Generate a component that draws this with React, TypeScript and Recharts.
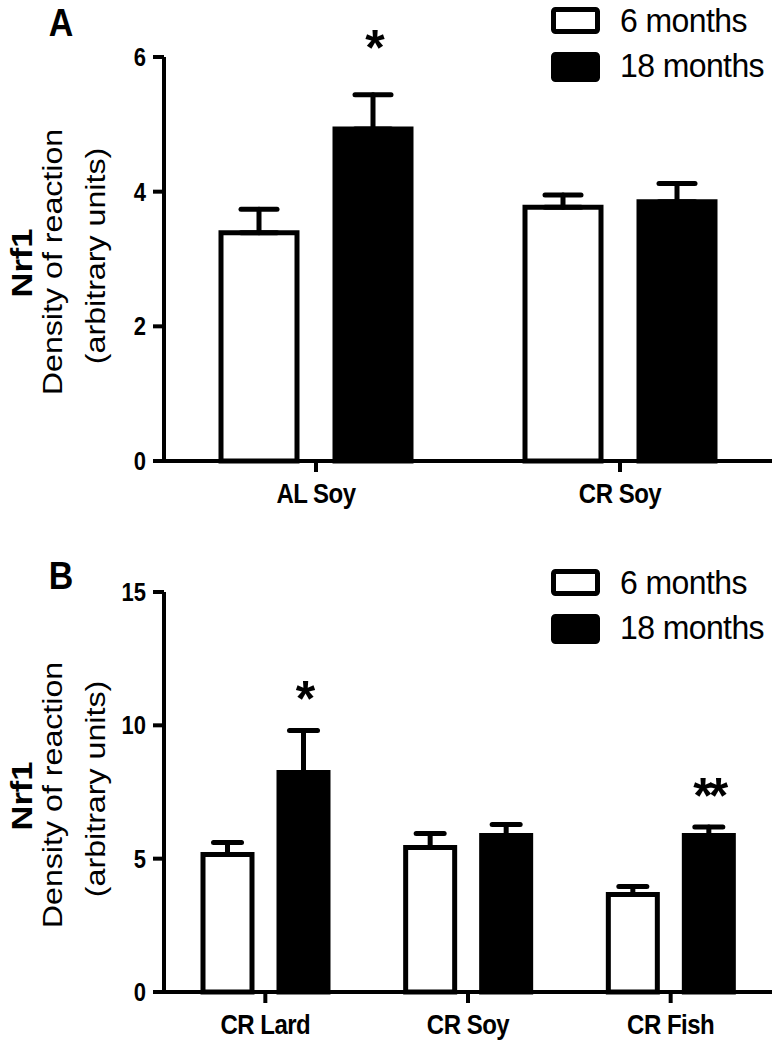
import React from "react";
import { BarChart, Bar, XAxis, YAxis, ErrorBar, Legend, LabelList, Label } from "recharts";

// panel A
const catsA = ["AL Soy", "CR Soy"];
const m6A = [3.39, 3.77];
const e6A = [0.35, 0.18];
const m18A = [4.93, 3.85];
const e18A = [0.51, 0.27];
const sigA = ["*", ""];
const ticksA = [0, 2, 4, 6];

// panel B
const catsB = ["CR Lard", "CR Soy", "CR Fish"];
const m6B = [5.16, 5.42, 3.66];
const e6B = [0.45, 0.52, 0.3];
const m18B = [8.23, 5.87, 5.87];
const e18B = [1.58, 0.41, 0.32];
const sigB = ["*", "", "**"];
const ticksB = [0, 5, 10, 15];

const series = ["6 months", "18 months"];
const fills = ["#fff", "#000"];

const FONT = "'Liberation Sans', Arial, Helvetica, sans-serif";
const S = 1.15; // source figure is stretched vertically

const build = (cats: string[], m6: number[], e6: number[], m18: number[], e18: number[], sig: string[]) =>
  cats.map((c, i) => ({
    name: c,
    m6: m6[i],
    m18: m18[i],
    err6: [0, e6[i]],
    err18: [0, e18[i]],
    sig: sig[i],
  }));

const YTick = (p: any) => (
  <text
    transform={`translate(${p.x},${p.y}) scale(1,${S})`}
    textAnchor="end"
    dy="0.36em"
    fontSize={22}
    fontWeight="bold"
    fontFamily={FONT}
    fill="#000"
  >
    {p.payload.value}
  </text>
);

const XTick = (p: any) => (
  <text
    transform={`translate(${p.x},${p.y + 29}) scale(1,${S})`}
    textAnchor="middle"
    fontSize={24}
    fontWeight="bold"
    fontFamily={FONT}
    letterSpacing={-0.5}
    fill="#000"
  >
    {p.payload.value}
  </text>
);

const YTitle = (p: any) => {
  const vb = p.viewBox || {};
  const cy = vb.y + vb.height / 2;
  const rot = (x: number, y: number) => `translate(${x},${y}) rotate(-90) scale(${S},1)`;
  return (
    <g fontFamily={FONT} fill="#000" textAnchor="middle">
      <text transform={rot(32, cy + 4)} fontSize={30} fontWeight="bold">Nrf1</text>
      <text transform={rot(62, cy + 3)} fontSize={28}>Density of reaction</text>
      <text transform={rot(105, cy - 3)} fontSize={28}>(arbitrary units)</text>
    </g>
  );
};

const LegendBox = () => {
  const rows = [
    { y: 9.5, h: 22, base: 32 },
    { y: 54.5, h: 25, base: 77 },
  ];
  return (
    <svg width={239} height={90} style={{ display: "block" }}>
      {series.map((s, i) => (
        <g key={s}>
          <rect x={13.5} y={rows[i].y} width={44} height={rows[i].h} rx={2} fill={fills[i]} stroke="#000" strokeWidth={5} />
          <text
            transform={`translate(80,${rows[i].base}) scale(1,1.05)`}
            fontSize={32}
            fontFamily={FONT}
            letterSpacing={-0.6}
            fill="#000"
          >
            {s}
          </text>
        </g>
      ))}
    </svg>
  );
};

const sigLabel = (vals: number[], errs: number[], off: number) => (p: any) => {
  const vb = p.viewBox || p;
  const v = p.value;
  if (!v) return null;
  const i = p.index;
  const ppu = vb.height / vals[i];
  const top = vb.y - errs[i] * ppu;
  return (
    <text
      x={vb.x + vb.width / 2}
      y={top - off + 28}
      textAnchor="middle"
      fontSize={50}
      fontWeight="bold"
      fontFamily={FONT}
      letterSpacing={-4}
      fill="#000"
    >
      {v}
    </text>
  );
};

type PanelProps = {
  data: any[];
  letter: string;
  height: number;
  top: number;
  xh: number;
  ticks: number[];
  barSize: number;
  barGap: number;
  cap: number;
  m18: number[];
  e18: number[];
  sigOff: number;
  legendTop: number;
  letterBase: number;
};

function Panel(props: PanelProps) {
  const { data, letter, height, top, xh, ticks, barSize, barGap, cap, m18, e18, sigOff, legendTop, letterBase } = props;
  const line = { stroke: "#000", strokeWidth: 4 };
  return (
    <div style={{ position: "relative", width: 779, height }}>
      <BarChart
        width={779}
        height={height}
        data={data}
        margin={{ top, right: 7, left: 0, bottom: 0 }}
        barSize={barSize}
        barGap={barGap}
      >
        <XAxis dataKey="name" height={xh} axisLine={line} tickLine={line} tickSize={11} tick={<XTick />} interval={0} />
        <YAxis
          width={164}
          domain={[ticks[0], ticks[ticks.length - 1]]}
          ticks={ticks}
          axisLine={line}
          tickLine={line}
          tickSize={11}
          tickMargin={7}
          tick={<YTick />}
          interval={0}
        >
          <Label content={<YTitle />} />
        </YAxis>
        <Legend
          layout="vertical"
          verticalAlign="middle"
          align="center"
          content={<LegendBox />}
          wrapperStyle={{ top: legendTop, left: 540, width: 239, height: 90 }}
        />
        <Bar dataKey="m6" name={series[0]} fill={fills[0]} stroke="#000" strokeWidth={5} isAnimationActive={false}>
          <ErrorBar dataKey="err6" width={cap} stroke="#000" strokeWidth={5} strokeLinecap="round" />
        </Bar>
        <Bar dataKey="m18" name={series[1]} fill={fills[1]} stroke="#000" strokeWidth={5} isAnimationActive={false}>
          <ErrorBar dataKey="err18" width={cap} stroke="#000" strokeWidth={5} strokeLinecap="round" />
          <LabelList dataKey="sig" content={sigLabel(m18, e18, sigOff)} />
        </Bar>
      </BarChart>
      <svg width={100} height={80} style={{ position: "absolute", left: 0, top: 0 }}>
        <text
          transform={`translate(61,${letterBase}) scale(1,${S})`}
          textAnchor="middle"
          fontSize={34}
          fontWeight="bold"
          fontFamily={FONT}
          fill="#000"
        >
          {letter}
        </text>
      </svg>
    </div>
  );
}

export default function App() {
  const dataA = build(catsA, m6A, e6A, m18A, e18A, sigA);
  const dataB = build(catsB, m6B, e6B, m18B, e18B, sigB);
  return (
    <div style={{ position: "absolute", left: 0, top: 0, width: 779, background: "#fff" }}>
      <Panel
        data={dataA}
        letter="A"
        height={520}
        top={57}
        xh={59}
        ticks={ticksA}
        barSize={76}
        barGap={38}
        cap={18}
        m18={m18A}
        e18={e18A}
        sigOff={58}
        legendTop={0}
        letterBase={36}
      />
      <Panel
        data={dataB}
        letter="B"
        height={530}
        top={72}
        xh={58}
        ticks={ticksB}
        barSize={49}
        barGap={27}
        cap={14}
        m18={m18B}
        e18={e18B}
        sigOff={42}
        legendTop={42}
        letterBase={69}
      />
    </div>
  );
}
